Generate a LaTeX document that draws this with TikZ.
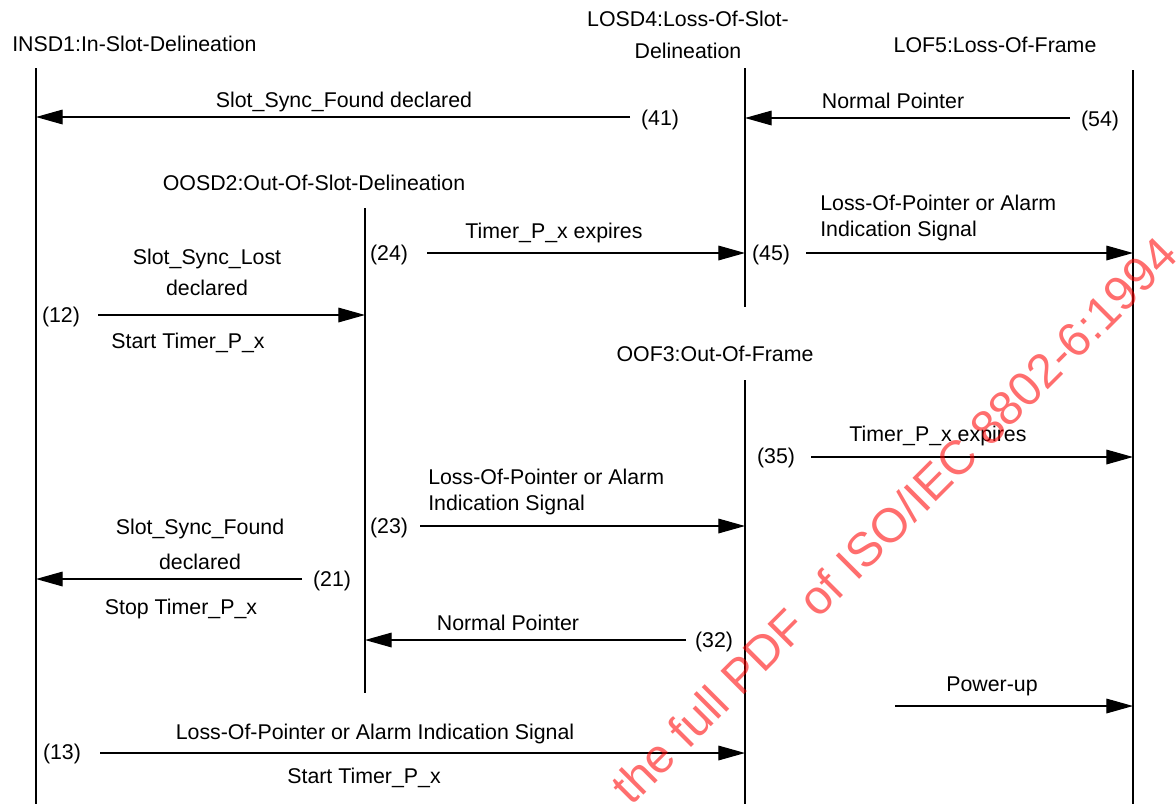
\documentclass[tikz,border=0pt]{standalone}
\usepackage{fontspec}
\setmainfont{Liberation Sans}
\usepackage{xcolor}
\usetikzlibrary{arrows.meta,positioning}
\definecolor{wmred}{RGB}{255,0,0}

\begin{document}
\begin{tikzpicture}[x=0.75pt,y=-0.75pt,
  txt/.style={font=\fontsize{16}{19.5}\selectfont,inner sep=0pt},
  lbl/.style={txt,text height=11.5pt,text depth=0pt},
  life/.style={line width=0.9pt},
  arr/.style={-{Triangle[length=20pt,width=11pt]},line width=0.9pt}]
\useasboundingbox (0,0) rectangle (1176,804);
\clip (0,0) rectangle (1176,804);
% lifelines
\coordinate (insd) at (36,68);   \coordinate (insdE) at (36,804);
\coordinate (oosd) at (365,208); \coordinate (oosdE) at (365,693);
\coordinate (losd) at (745,68);  \coordinate (losdE) at (745,307);
\coordinate (oof) at (745,380);  \coordinate (oofE) at (745,804);
\coordinate (lof) at (1133,70);  \coordinate (lofE) at (1133,804);
\foreach \a/\b in {insd/insdE,oosd/oosdE,losd/losdE,oof/oofE,lof/lofE}
  \draw[life] (\a)--(\b);
\node[lbl,anchor=west] (insdL) at (12,44) {INSD1:In-Slot-Delineation};
\node[txt,align=center] (losdL) at (688,35) {LOSD4:Loss-Of-Slot-\\[4.5pt]Delineation};
\node[lbl] (lofL) at (995,45) {LOF5:Loss-Of-Frame};
\node[lbl] (oosdL) at (314,183) {OOSD2:Out-Of-Slot-Delineation};
\node[lbl] (oofL) at (715,354) {OOF3:Out-Of-Frame};
% (41) and (54)
\coordinate (s41) at (630,117);
\draw[arr] (s41)--(s41 -| insd);
\node[lbl] (n41) at (660,118) {(41)};
\node[lbl] (l41) at (344,100) {Slot\_Sync\_Found declared};
\coordinate (s54) at (1070,118);
\draw[arr] (s54)--(s54 -| losd);
\node[lbl] (n54) at (1100,119) {(54)};
\node[lbl] (l54) at (893,101) {Normal Pointer};
% (24) and (45)
\coordinate (s24) at (427,253);
\draw[arr] (s24)--(s24 -| losd);
\node[lbl] (n24) at (389,253) {(24)};
\node[lbl] (l24) at (554,231) {Timer\_P\_x expires};
\coordinate (s45) at (806,253);
\draw[arr] (s45)--(s45 -| lof);
\node[lbl] (n45) at (771,253) {(45)};
\node[txt,anchor=west,align=left] (l45) at (820,218) {Loss-Of-Pointer or Alarm\\Indication Signal};
% (12)
\coordinate (s12) at (98,315);
\draw[arr] (s12)--(s12 -| oosd);
\node[lbl] (n12) at (61,315) {(12)};
\node[txt,align=center] (l12) at (207,272.5) {Slot\_Sync\_Lost\\[3.75pt]declared};
\node[lbl] (l12b) at (188,341) {Start Timer\_P\_x};
% (35)
\coordinate (s35) at (811,457);
\draw[arr] (s35)--(s35 -| lof);
\node[lbl] (n35) at (776,456) {(35)};
\node[lbl] (l35) at (938,434) {Timer\_P\_x expires};
% (23)
\coordinate (s23) at (420,526);
\draw[arr] (s23)--(s23 -| oof);
\node[lbl] (n23) at (389,526) {(23)};
\node[txt,anchor=west,align=left] (l23) at (428,492) {Loss-Of-Pointer or Alarm\\Indication Signal};
% (21)
\coordinate (s21) at (302,579);
\draw[arr] (s21)--(s21 -| insd);
\node[lbl] (n21) at (332,579) {(21)};
\node[txt,align=center] (l21) at (200,544.5) {Slot\_Sync\_Found\\[6.75pt]declared};
\node[lbl] (l21b) at (181,607) {Stop Timer\_P\_x};
% (32)
\coordinate (s32) at (686,640);
\draw[arr] (s32)--(s32 -| oosd);
\node[lbl] (n32) at (714,640) {(32)};
\node[lbl] (l32) at (508,623) {Normal Pointer};
% power-up
\coordinate (spw) at (895,706);
\draw[arr] (spw)--(spw -| lof);
\node[lbl] (lpw) at (992,684) {Power-up};
% (13)
\coordinate (s13) at (100,753);
\draw[arr] (s13)--(s13 -| oof);
\node[lbl] (n13) at (62,752) {(13)};
\node[lbl] (l13) at (375,732) {Loss-Of-Pointer or Alarm Indication Signal};
\node[lbl] (l13b) at (364,776) {Start Timer\_P\_x};
% watermark
\node[font=\fontsize{36}{40}\selectfont,text=wmred,opacity=0.57,rotate=45,inner sep=0pt] (wm)
  at (894,520) {the full PDF of ISO/IEC 8802-6:1994};
\end{tikzpicture}
\end{document}
